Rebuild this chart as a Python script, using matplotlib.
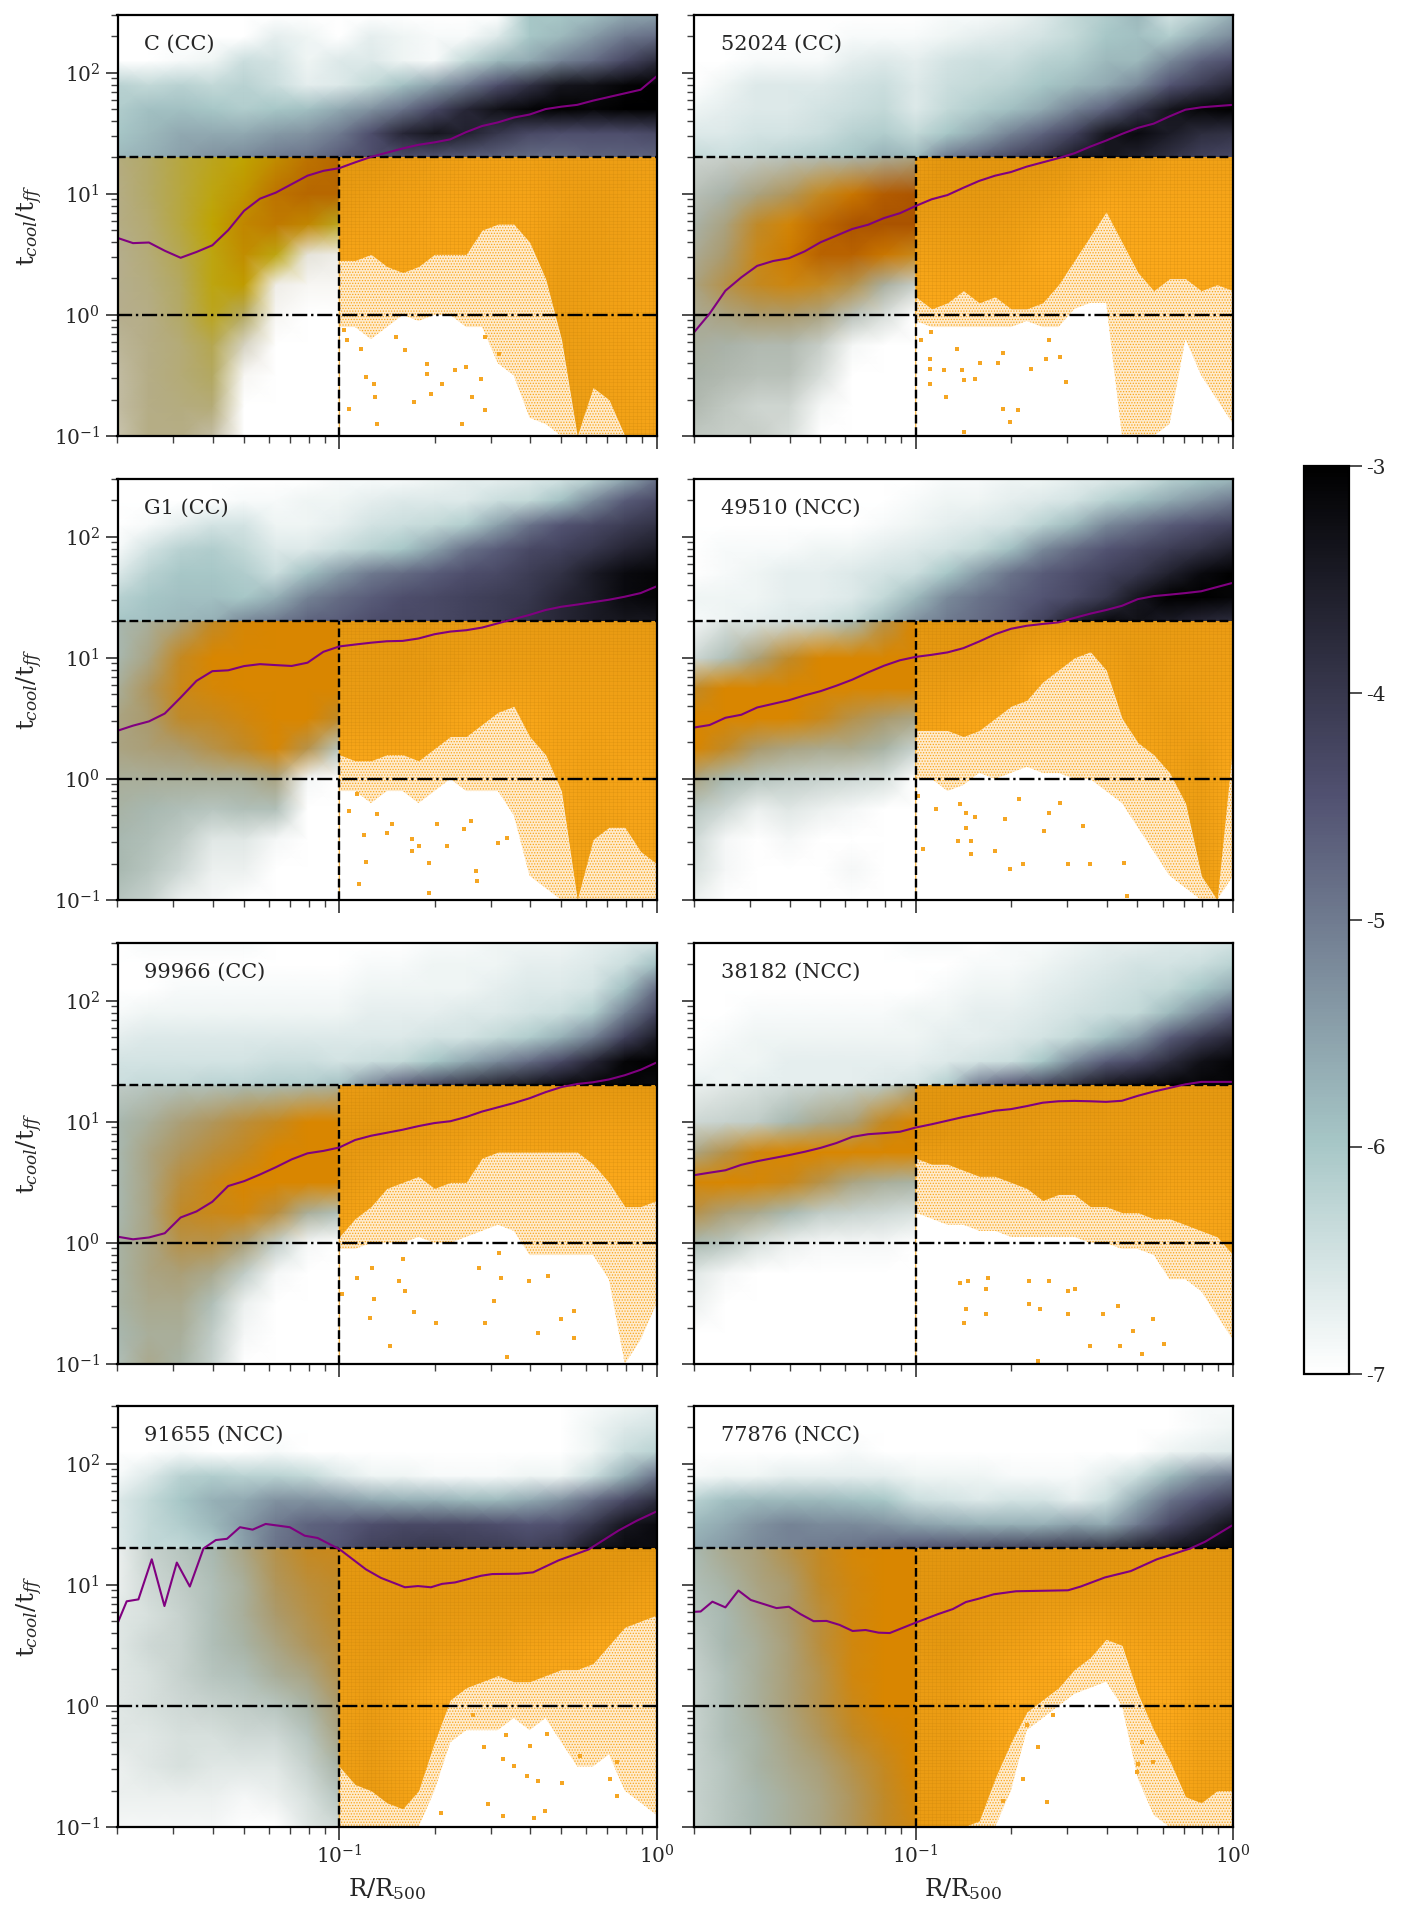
import numpy as np
import matplotlib

matplotlib.use("Agg")
import matplotlib.pyplot as plt
from matplotlib.cm import ScalarMappable
from matplotlib.colors import LinearSegmentedColormap, Normalize
from matplotlib.ticker import LogLocator, NullFormatter

plt.rcParams["font.family"] = "DejaVu Serif"
plt.rcParams["mathtext.fontset"] = "dejavuserif"
plt.rcParams["hatch.linewidth"] = 0.6

PANEL_LABELS = ["C (CC)", "52024 (CC)", "G1 (CC)", "49510 (NCC)",
                "99966 (CC)", "38182 (NCC)", "91655 (NCC)", "77876 (NCC)"]

# node positions (log10) of the density grids
TOP_LOG_R = [-1.7, -1.6, -1.5, -1.4, -1.3, -1.2, -1.1, -1.0, -0.9, -0.8, -0.7, -0.6, -0.5, -0.4, -0.3, -0.2, -0.1, 0.0]
TOP_LOG_T = [1.30, 1.5, 1.7, 1.9, 2.1, 2.3, 2.48]
LEFT_LOG_R = [-1.7, -1.6, -1.5, -1.4, -1.3, -1.2, -1.1, -1.0]
LEFT_LOG_T = [-1.0, -0.75, -0.5, -0.25, 0.0, 0.25, 0.5, 0.75, 1.0, 1.3]
EDGE_LOG_R = [-1.0, -0.95, -0.9, -0.85, -0.8, -0.75, -0.7, -0.65, -0.6, -0.55, -0.5,
              -0.45, -0.4, -0.35, -0.3, -0.25, -0.2, -0.15, -0.1, -0.05, 0.0]
TONE_LOG_R = [-1.0, -0.9, -0.8, -0.7, -0.6, -0.5, -0.4, -0.3, -0.2, -0.1, 0.0]
TONE_LOG_T = [-1.0, 0.1, 0.5, 0.9, 1.3]
MEDIAN_LOG_R = [-1.7, -1.65, -1.6, -1.55, -1.5, -1.45, -1.4, -1.35, -1.3, -1.25, -1.2, -1.15,
                -1.1, -1.05, -1.0, -0.95, -0.9, -0.85, -0.8, -0.75, -0.7, -0.65, -0.6, -0.55,
                -0.5, -0.45, -0.4, -0.35, -0.3, -0.25, -0.2, -0.15, -0.1, -0.05, 0.0]

# log10 density above t=20, rows bottom to top
TOP_C = [
    [-5.8, -5.7, -5.5, -5.3, -5.2, -5.0, -4.9, -4.6, -4.4, -4.4, -4.5, -4.6, -4.7, -4.8, -4.8, -4.7, -4.7, -4.7],
    [-6.0, -5.8, -5.6, -5.6, -5.6, -5.4, -5.3, -5.0, -4.4, -3.7, -3.4, -3.6, -4.0, -4.3, -4.4, -4.4, -4.4, -4.3],
    [-6.1, -5.9, -5.9, -6.0, -6.1, -6.0, -5.9, -5.6, -5.3, -4.9, -4.3, -3.7, -3.3, -3.1, -3.0, -3.1, -3.0, -3.0],
    [-6.2, -6.3, -6.2, -6.3, -6.2, -6.4, -6.7, -6.6, -6.3, -5.9, -5.5, -5.0, -4.4, -3.9, -3.4, -3.3, -3.1, -3.0],
    [-7.0, -7.0, -6.9, -6.8, -6.4, -6.5, -6.8, -6.6, -6.6, -6.8, -6.9, -6.3, -5.8, -5.6, -5.1, -4.8, -4.3, -3.8],
    [-7.0, -7.0, -7.0, -7.0, -7.0, -6.7, -6.8, -7.0, -6.7, -6.8, -6.9, -6.9, -6.6, -6.0, -5.8, -5.4, -5.0, -4.8],
    [-7.0, -7.0, -7.0, -7.0, -7.0, -7.0, -7.0, -7.0, -7.0, -7.0, -7.0, -7.0, -7.0, -6.0, -6.0, -5.9, -5.6, -5.5],
]
TOP_52024 = [
    [-6.3, -6.4, -6.3, -6.2, -6.1, -6.0, -5.7, -5.8, -5.0, -4.7, -4.3, -4.0, -3.5, -3.4, -3.6, -3.9, -4.2, -4.3],
    [-6.6, -6.6, -6.5, -6.5, -6.4, -6.2, -6.1, -6.3, -6.0, -5.6, -5.1, -4.7, -4.2, -3.4, -3.2, -3.5, -3.8, -3.9],
    [-6.8, -6.7, -6.6, -6.6, -6.5, -6.4, -6.3, -6.6, -6.3, -6.1, -5.9, -5.6, -5.1, -4.7, -4.0, -3.4, -3.1, -3.0],
    [-7.0, -6.8, -6.6, -6.6, -6.6, -6.5, -6.4, -6.6, -6.4, -6.3, -6.2, -6.0, -5.8, -5.6, -5.2, -4.5, -4.1, -3.7],
    [-7.0, -7.0, -6.9, -6.9, -6.9, -6.7, -6.6, -6.7, -6.5, -6.4, -6.4, -6.2, -6.1, -5.8, -5.8, -5.2, -4.7, -4.4],
    [-7.0, -7.0, -7.0, -7.0, -7.0, -6.9, -6.9, -6.9, -6.8, -6.7, -6.6, -6.5, -6.3, -6.0, -5.9, -6.1, -5.6, -5.2],
    [-7.0, -7.0, -7.0, -7.0, -7.0, -7.0, -7.0, -7.0, -6.9, -6.9, -6.8, -6.6, -6.3, -6.1, -5.8, -6.5, -6.2, -5.7],
]
TOP_G1 = [
    [-6.0, -5.9, -5.8, -5.7, -5.2, -5.0, -4.7, -4.6, -4.4, -4.3, -4.3, -4.2, -4.1, -3.9, -3.7, -3.5, -3.4, -3.4],
    [-6.2, -6.0, -5.9, -5.9, -6.0, -5.7, -5.1, -4.8, -4.6, -4.4, -4.3, -4.2, -4.1, -4.0, -3.7, -3.5, -3.2, -3.1],
    [-6.6, -6.2, -6.0, -6.0, -6.1, -6.4, -5.9, -5.4, -5.0, -4.8, -4.6, -4.4, -4.3, -4.1, -3.9, -3.5, -3.2, -3.1],
    [-6.9, -6.5, -6.2, -6.1, -6.3, -6.6, -6.6, -6.4, -6.2, -6.0, -5.5, -4.9, -4.6, -4.3, -4.2, -4.0, -3.7, -3.5],
    [-7.0, -6.9, -6.7, -6.5, -6.5, -6.8, -6.8, -6.7, -6.5, -6.4, -6.3, -6.1, -5.5, -4.9, -4.5, -4.3, -4.1, -3.9],
    [-7.0, -7.0, -7.0, -7.0, -6.9, -6.9, -6.8, -6.8, -6.7, -6.6, -6.6, -6.6, -6.4, -6.3, -5.9, -5.2, -4.6, -4.3],
    [-7.0, -7.0, -7.0, -7.0, -7.0, -7.0, -7.0, -6.9, -6.9, -6.9, -6.8, -6.7, -6.7, -6.6, -6.5, -6.2, -5.6, -4.9],
]
TOP_49510 = [
    [-6.9, -6.8, -6.7, -6.6, -6.5, -6.3, -5.8, -5.3, -5.0, -4.8, -4.6, -4.2, -3.6, -3.2, -3.3, -3.5, -3.7, -3.8],
    [-6.8, -6.8, -6.8, -6.7, -6.7, -6.6, -6.3, -5.8, -5.2, -4.9, -4.7, -4.5, -4.3, -4.0, -3.4, -3.0, -3.0, -3.1],
    [-7.0, -6.9, -6.8, -6.7, -6.7, -6.6, -6.5, -6.4, -6.0, -5.4, -4.9, -4.6, -4.4, -4.2, -4.0, -3.6, -3.2, -3.0],
    [-7.0, -6.9, -6.9, -6.9, -6.8, -6.8, -6.7, -6.6, -6.5, -6.3, -5.9, -5.2, -4.8, -4.5, -4.3, -4.1, -3.9, -3.6],
    [-7.0, -7.0, -7.0, -7.0, -7.0, -7.0, -6.9, -6.8, -6.7, -6.6, -6.5, -6.2, -5.8, -5.2, -4.9, -4.6, -4.4, -4.2],
    [-7.0, -7.0, -7.0, -7.0, -7.0, -7.0, -7.0, -6.9, -6.8, -6.8, -6.7, -6.6, -6.5, -6.2, -5.9, -5.6, -5.3, -5.0],
    [-7.0, -7.0, -7.0, -7.0, -7.0, -7.0, -7.0, -7.0, -6.9, -6.9, -6.8, -6.8, -6.7, -6.6, -6.5, -6.2, -6.0, -5.8],
]
TOP_99966 = [
    [-6.4, -6.3, -6.3, -6.2, -6.2, -6.1, -6.1, -5.9, -5.2, -4.6, -4.2, -3.9, -3.6, -3.4, -3.2, -3.1, -3.1, -3.2],
    [-6.5, -6.5, -6.5, -6.5, -6.5, -6.4, -6.4, -6.5, -6.4, -6.3, -6.0, -5.6, -5.2, -4.8, -4.3, -3.7, -3.1, -3.0],
    [-6.7, -6.6, -6.6, -6.6, -6.6, -6.6, -6.6, -6.6, -6.6, -6.6, -6.5, -6.5, -6.3, -6.1, -5.7, -5.1, -4.2, -3.5],
    [-6.9, -6.8, -6.8, -6.8, -6.8, -6.8, -6.8, -6.8, -6.7, -6.7, -6.7, -6.6, -6.6, -6.5, -6.4, -6.1, -5.1, -4.2],
    [-7.0, -7.0, -6.9, -6.9, -6.9, -6.9, -6.9, -6.9, -6.8, -6.8, -6.8, -6.8, -6.7, -6.6, -6.6, -6.5, -5.9, -4.8],
    [-7.0, -7.0, -7.0, -7.0, -7.0, -7.0, -7.0, -7.0, -6.9, -6.9, -6.8, -6.8, -6.8, -6.7, -6.7, -6.6, -6.4, -5.9],
    [-7.0, -6.9, -6.9, -6.9, -6.9, -7.0, -7.0, -7.0, -7.0, -7.0, -6.9, -6.9, -6.8, -6.8, -6.8, -6.7, -6.6, -6.5],
]
TOP_38182 = [
    [-6.7, -6.8, -6.7, -6.7, -6.7, -6.7, -6.6, -6.5, -6.1, -5.0, -4.5, -4.2, -3.8, -3.4, -3.2, -3.1, -3.1, -3.1],
    [-6.9, -6.8, -6.8, -6.7, -6.7, -6.7, -6.7, -6.7, -6.6, -6.5, -6.4, -6.0, -5.2, -4.6, -4.3, -3.8, -3.3, -3.1],
    [-7.0, -6.9, -6.8, -6.8, -6.8, -6.8, -6.8, -6.8, -6.7, -6.7, -6.6, -6.5, -6.3, -5.9, -5.4, -4.6, -4.1, -3.7],
    [-7.0, -7.0, -6.9, -6.9, -6.9, -6.9, -6.9, -6.8, -6.8, -6.7, -6.7, -6.6, -6.5, -6.4, -6.3, -5.8, -5.2, -4.6],
    [-7.0, -7.0, -7.0, -7.0, -7.0, -7.0, -7.0, -7.0, -6.9, -6.8, -6.8, -6.7, -6.6, -6.5, -6.4, -6.3, -6.0, -5.6],
    [-7.0, -7.0, -7.0, -7.0, -7.0, -7.0, -7.0, -7.0, -7.0, -6.9, -6.9, -6.8, -6.7, -6.6, -6.5, -6.5, -6.4, -6.2],
    [-7.0, -7.0, -7.0, -7.0, -7.0, -7.0, -7.0, -6.9, -6.9, -7.0, -6.9, -6.9, -6.8, -6.7, -6.7, -6.6, -6.6, -6.5],
]
TOP_91655 = [
    [-6.6, -6.3, -6.3, -6.1, -5.5, -4.9, -4.7, -4.5, -4.2, -4.1, -4.0, -4.1, -4.1, -4.2, -4.0, -3.4, -3.2, -3.2],
    [-6.6, -6.3, -6.1, -5.8, -5.4, -5.0, -4.7, -4.6, -4.4, -4.3, -4.3, -4.3, -4.4, -4.5, -4.4, -4.0, -3.4, -3.2],
    [-6.6, -6.3, -6.0, -5.7, -5.6, -5.3, -5.3, -5.4, -5.6, -5.7, -5.7, -5.8, -5.8, -5.6, -5.3, -4.8, -4.3, -3.8],
    [-6.9, -6.6, -6.2, -6.1, -6.2, -6.2, -6.3, -6.6, -6.8, -6.8, -6.9, -6.9, -6.9, -6.8, -6.8, -6.4, -5.7, -4.9],
    [-7.0, -7.0, -6.9, -7.0, -7.0, -6.9, -7.0, -7.0, -7.0, -7.0, -7.0, -7.0, -7.0, -7.0, -7.0, -6.8, -6.4, -6.2],
    [-7.0, -7.0, -7.0, -7.0, -7.0, -7.0, -7.0, -7.0, -7.0, -7.0, -7.0, -7.0, -7.0, -7.0, -7.0, -6.8, -6.6, -6.5],
    [-7.0, -7.0, -7.0, -7.0, -7.0, -7.0, -7.0, -7.0, -7.0, -7.0, -7.0, -7.0, -7.0, -7.0, -7.0, -6.9, -6.8, -6.7],
]
TOP_77876 = [
    [-5.6, -5.4, -5.2, -5.1, -5.0, -4.9, -4.7, -4.5, -4.4, -4.3, -4.2, -4.1, -4.0, -3.9, -3.6, -3.4, -3.2, -3.1],
    [-5.8, -5.6, -5.3, -5.1, -5.2, -5.2, -5.3, -5.5, -5.6, -5.7, -5.7, -5.7, -5.5, -5.6, -5.0, -4.3, -3.8, -3.3],
    [-6.2, -5.9, -5.8, -5.8, -5.8, -5.9, -6.0, -6.4, -6.5, -6.6, -6.5, -6.5, -6.7, -6.4, -5.6, -4.9, -4.5, -4.1],
    [-6.9, -6.8, -6.8, -6.7, -6.7, -6.7, -6.7, -6.8, -6.8, -6.8, -6.9, -6.9, -6.9, -6.7, -6.4, -5.8, -5.3, -5.0],
    [-7.0, -7.0, -7.0, -7.0, -7.0, -6.9, -7.0, -7.0, -7.0, -7.0, -7.0, -7.0, -7.0, -7.0, -7.0, -6.8, -6.7, -6.6],
    [-7.0, -7.0, -7.0, -7.0, -7.0, -7.0, -7.0, -7.0, -7.0, -7.0, -7.0, -7.0, -7.0, -7.0, -7.0, -7.0, -6.9, -6.8],
    [-7.0, -7.0, -7.0, -7.0, -7.0, -7.0, -7.0, -7.0, -7.0, -7.0, -7.0, -7.0, -7.0, -7.0, -7.0, -7.0, -6.9, -6.9],
]

# log10 density for R<0.1 and t<20, rows bottom to top
LEFT_C = [
    [-6.3, -5.9, -5.9, -6.2, -7.0, -7.0, -7.0, -7.0],
    [-6.2, -5.9, -5.8, -5.7, -7.0, -7.0, -7.0, -7.0],
    [-6.2, -5.9, -5.7, -5.4, -6.9, -7.0, -7.0, -7.0],
    [-6.1, -5.9, -5.7, -5.3, -6.5, -7.0, -7.0, -7.0],
    [-6.0, -5.9, -5.5, -5.0, -5.4, -6.9, -7.0, -7.0],
    [-6.0, -5.8, -5.4, -4.9, -4.7, -6.8, -6.9, -6.9],
    [-6.0, -5.7, -5.3, -4.9, -4.5, -4.9, -6.7, -6.8],
    [-5.9, -5.6, -5.2, -4.8, -4.4, -4.2, -4.4, -5.0],
    [-5.9, -5.5, -5.2, -4.9, -4.6, -4.1, -3.9, -3.9],
    [-5.8, -5.5, -5.2, -5.0, -4.8, -4.5, -4.1, -3.9],
]
LEFT_52024 = [
    [-6.3, -6.4, -6.4, -6.6, -7.0, -7.0, -7.0, -7.0],
    [-6.1, -6.3, -6.5, -6.5, -6.9, -7.0, -7.0, -7.0],
    [-6.0, -6.1, -6.2, -6.2, -6.6, -7.0, -7.0, -7.0],
    [-5.9, -6.0, -6.1, -6.1, -6.4, -6.9, -7.0, -7.0],
    [-5.8, -5.6, -5.4, -5.4, -5.6, -6.2, -6.6, -7.0],
    [-5.6, -5.2, -4.9, -4.7, -4.9, -5.2, -5.9, -6.4],
    [-5.8, -5.4, -4.8, -4.4, -4.0, -4.0, -4.3, -4.8],
    [-6.0, -5.6, -5.0, -4.6, -4.1, -3.7, -3.6, -3.6],
    [-6.2, -6.0, -5.6, -5.3, -4.9, -4.3, -3.9, -3.7],
    [-6.5, -6.4, -6.3, -6.2, -6.1, -6.0, -5.8, -5.6],
]
LEFT_G1 = [
    [-6.2, -6.4, -6.8, -6.9, -7.0, -7.0, -7.0, -7.0],
    [-6.0, -6.2, -6.5, -6.8, -6.8, -7.0, -7.0, -7.0],
    [-6.0, -6.1, -6.3, -6.7, -6.7, -6.9, -7.0, -7.0],
    [-5.9, -6.0, -6.1, -6.2, -6.1, -6.1, -7.0, -7.0],
    [-5.8, -5.8, -5.8, -5.8, -5.8, -5.6, -6.9, -7.0],
    [-5.6, -5.5, -5.4, -5.2, -5.0, -4.6, -5.2, -6.2],
    [-5.6, -5.4, -5.0, -4.9, -4.7, -4.3, -4.5, -5.0],
    [-5.8, -5.3, -4.8, -4.6, -4.5, -4.3, -4.3, -4.5],
    [-6.0, -5.6, -4.9, -4.5, -4.2, -4.2, -4.1, -4.1],
    [-6.0, -5.8, -5.5, -5.0, -4.6, -4.3, -4.1, -4.1],
]
LEFT_49510 = [
    [-6.8, -7.0, -7.0, -7.0, -7.0, -7.0, -7.0, -7.0],
    [-6.6, -6.9, -7.0, -7.0, -7.0, -6.9, -7.0, -7.0],
    [-6.5, -6.9, -7.0, -6.9, -7.0, -7.0, -7.0, -7.0],
    [-6.2, -6.5, -6.8, -6.7, -6.8, -6.9, -7.0, -7.0],
    [-5.6, -6.0, -6.2, -6.3, -6.4, -6.5, -6.6, -7.0],
    [-4.5, -5.0, -5.4, -5.6, -5.7, -5.7, -5.9, -6.4],
    [-4.3, -4.3, -4.3, -4.4, -4.8, -5.2, -5.4, -5.6],
    [-5.0, -4.4, -4.2, -4.2, -4.2, -4.2, -4.2, -4.2],
    [-6.5, -6.1, -5.5, -5.0, -4.5, -4.2, -4.1, -4.1],
    [-6.9, -6.6, -6.6, -6.5, -6.3, -6.0, -5.2, -4.5],
]
LEFT_99966 = [
    [-6.1, -5.7, -5.9, -6.4, -7.0, -7.0, -7.0, -7.0],
    [-6.0, -5.8, -5.8, -6.3, -6.9, -7.0, -7.0, -7.0],
    [-5.9, -5.7, -5.7, -6.1, -6.8, -7.0, -7.0, -7.0],
    [-5.9, -5.6, -5.5, -5.7, -6.3, -6.9, -7.0, -7.0],
    [-5.9, -5.6, -5.2, -5.2, -5.5, -6.3, -6.9, -7.0],
    [-6.0, -5.6, -5.0, -4.8, -4.7, -5.1, -5.8, -6.1],
    [-6.0, -5.6, -5.1, -4.8, -4.5, -4.3, -4.2, -4.3],
    [-6.0, -5.6, -5.3, -5.1, -4.9, -4.5, -4.2, -4.1],
    [-6.0, -5.8, -5.5, -5.3, -5.1, -4.9, -4.4, -4.1],
    [-6.3, -6.2, -6.1, -6.1, -6.0, -6.0, -5.9, -5.8],
]
LEFT_38182 = [
    [-7.0, -7.0, -7.0, -7.0, -7.0, -7.0, -7.0, -7.0],
    [-7.0, -7.0, -7.0, -7.0, -7.0, -7.0, -7.0, -7.0],
    [-6.8, -7.0, -7.0, -7.0, -7.0, -7.0, -7.0, -7.0],
    [-6.7, -6.9, -7.0, -7.0, -7.0, -7.0, -7.0, -7.0],
    [-6.0, -6.2, -6.6, -6.8, -6.9, -6.9, -6.9, -7.0],
    [-5.2, -5.5, -5.7, -6.0, -6.3, -6.4, -6.5, -6.6],
    [-4.6, -4.5, -4.6, -4.8, -5.2, -5.6, -5.8, -5.9],
    [-5.6, -5.2, -4.7, -4.4, -4.3, -4.2, -4.2, -4.2],
    [-6.5, -6.4, -6.3, -6.0, -5.7, -5.5, -4.9, -4.3],
    [-6.8, -6.7, -6.6, -6.5, -6.4, -6.3, -6.2, -5.6],
]
LEFT_91655 = [
    [-6.9, -6.9, -6.9, -6.9, -7.0, -7.0, -6.7, -6.5],
    [-6.8, -6.8, -6.8, -6.8, -6.9, -6.8, -6.6, -6.2],
    [-6.8, -6.7, -6.6, -6.7, -6.7, -6.7, -6.4, -5.9],
    [-6.7, -6.7, -6.6, -6.6, -6.5, -6.5, -6.2, -5.6],
    [-6.7, -6.6, -6.5, -6.4, -6.3, -6.2, -5.9, -5.4],
    [-6.7, -6.6, -6.4, -6.2, -6.1, -5.8, -5.6, -5.2],
    [-6.7, -6.5, -6.4, -6.1, -5.9, -5.6, -5.3, -5.1],
    [-6.7, -6.6, -6.4, -6.1, -5.8, -5.4, -5.2, -5.0],
    [-6.8, -6.5, -6.3, -6.1, -5.8, -5.3, -5.1, -5.0],
    [-6.8, -6.4, -6.2, -6.0, -5.6, -5.2, -4.9, -4.8],
]
LEFT_77876 = [
    [-6.4, -6.2, -6.0, -5.8, -5.6, -5.3, -5.0, -4.7],
    [-6.4, -6.2, -6.0, -5.8, -5.6, -5.3, -5.0, -4.6],
    [-6.4, -6.2, -5.9, -5.7, -5.5, -5.2, -4.9, -4.5],
    [-6.4, -6.1, -5.9, -5.6, -5.3, -5.0, -4.7, -4.3],
    [-6.4, -6.1, -5.8, -5.5, -5.2, -4.8, -4.5, -4.3],
    [-6.4, -6.1, -5.8, -5.5, -5.2, -4.7, -4.4, -4.2],
    [-6.3, -6.0, -5.8, -5.5, -5.1, -4.7, -4.3, -4.2],
    [-6.2, -6.0, -5.7, -5.4, -5.1, -4.7, -4.3, -4.2],
    [-6.1, -5.9, -5.6, -5.4, -5.0, -4.7, -4.3, -4.2],
    [-6.0, -5.7, -5.5, -5.2, -4.9, -4.6, -4.3, -4.2],
]

# log10 t of the lower edge of the solid orange block, R>0.1
SOLID_C = [0.45, 0.45, 0.5, 0.4, 0.35, 0.4, 0.5, 0.5, 0.5, 0.7, 0.75, 0.75, 0.6, 0.3, -0.2, -1.0, -0.6, -0.7, -1.0, -1.0, -1.0]
SOLID_52024 = [0.15, 0.05, 0.1, 0.2, 0.1, 0.15, 0.05, 0.05, 0.1, 0.25, 0.45, 0.65, 0.85, 0.6, 0.35, 0.2, 0.3, 0.3, 0.2, 0.25, 0.2]
SOLID_G1 = [0.2, 0.15, 0.15, 0.2, 0.2, 0.15, 0.25, 0.35, 0.35, 0.45, 0.55, 0.6, 0.35, 0.2, -0.1, -1.0, -0.5, -0.4, -0.4, -0.6, -0.7]
SOLID_49510 = [0.4, 0.4, 0.4, 0.35, 0.4, 0.5, 0.6, 0.65, 0.8, 0.9, 1.0, 1.05, 0.9, 0.5, 0.3, 0.2, 0.05, -0.2, -0.8, -1.0, 0.3]
SOLID_99966 = [0.05, 0.2, 0.3, 0.45, 0.5, 0.55, 0.45, 0.5, 0.5, 0.7, 0.75, 0.75, 0.75, 0.75, 0.75, 0.75, 0.65, 0.5, 0.3, 0.3, 0.35]
SOLID_38182 = [0.7, 0.65, 0.65, 0.6, 0.55, 0.55, 0.5, 0.45, 0.35, 0.4, 0.4, 0.3, 0.3, 0.25, 0.25, 0.2, 0.2, 0.15, 0.1, 0.05, -0.1]
SOLID_91655 = [-0.5, -0.65, -0.7, -0.8, -0.85, -0.7, -0.3, 0.05, 0.15, 0.2, 0.25, 0.2, 0.2, 0.25, 0.3, 0.3, 0.35, 0.5, 0.65, 0.7, 0.75]
SOLID_77876 = [-1.0, -1.0, -1.0, -1.0, -0.95, -0.6, -0.3, -0.05, 0.05, 0.15, 0.3, 0.4, 0.55, 0.5, 0.1, -0.2, -0.45, -0.75, -0.8, -0.7, -0.7]

# log10 t where the scattered orange cells thin out
SPARSE_C = [-0.1, -0.1, -0.2, -0.1, 0.0, -0.05, 0.0, 0.0, -0.1, -0.1, -0.4, -0.5, -0.85, -0.9, -1.0, -1.0, -1.0, -1.0, -1.0, -1.0, -1.0]
SPARSE_52024 = [-0.05, -0.1, -0.1, -0.1, -0.1, -0.1, -0.1, -0.05, -0.1, -0.1, 0.05, 0.1, 0.1, -1.0, -1.0, -1.0, -0.9, -0.2, -0.5, -0.7, -0.9]
SPARSE_G1 = [-0.1, -0.1, -0.2, -0.1, -0.1, -0.2, -0.1, 0.0, -0.1, -0.1, -0.1, -0.3, -0.8, -0.9, -1.0, -1.0, -1.0, -1.0, -1.0, -1.0, -1.0]
SPARSE_49510 = [0.0, 0.0, -0.1, -0.05, 0.05, 0.0, 0.05, 0.1, 0.05, 0.05, 0.0, 0.0, -0.1, -0.2, -0.4, -0.6, -0.8, -0.9, -1.0, -1.0, -0.8]
SPARSE_99966 = [-0.05, -0.05, 0.0, 0.0, 0.0, 0.05, 0.0, 0.0, 0.05, 0.1, 0.15, 0.1, -0.1, -0.1, -0.1, -0.1, -0.1, -0.3, -1.0, -0.8, -0.5]
SPARSE_38182 = [0.25, 0.2, 0.15, 0.15, 0.1, 0.1, 0.05, 0.05, 0.05, 0.05, 0.05, 0.0, 0.0, -0.05, -0.05, -0.1, -0.3, -0.3, -0.4, -0.6, -0.8]
SPARSE_91655 = [-1.0, -1.0, -1.0, -1.0, -1.0, -1.0, -0.7, -0.3, -0.2, -0.2, -0.2, -0.1, -0.2, -0.1, -0.3, -0.5, -0.5, -0.4, -0.7, -0.8, -0.9]
SPARSE_77876 = [-1.0, -1.0, -1.0, -1.0, -1.0, -1.0, -0.7, -0.2, -0.1, 0.0, 0.1, 0.15, 0.2, 0.0, -0.6, -0.9, -1.0, -1.0, -1.0, -1.0, -1.0]

# lone orange cells below the scatter, (log10 R, log10 t)
STRAY_C = [(-0.986, -0.128), (-0.974, -0.21), (-0.933, -0.279), (-0.892, -0.568), (-0.887, -0.678), (-0.822, -0.183), (-0.793, -0.293), (-0.723, -0.403),
           (-0.723, -0.486), (-0.711, -0.651), (-0.676, -0.568), (-0.635, -0.458), (-0.6, -0.431), (-0.582, -0.678), (-0.553, -0.527), (-0.542, -0.788),
           (-0.612, -0.898), (-0.881, -0.898), (-0.968, -0.774), (-0.916, -0.513), (-0.764, -0.719), (-0.542, -0.183), (-0.495, -0.32)]
STRAY_52024 = [(-0.982, -0.21), (-0.953, -0.142), (-0.871, -0.279), (-0.956, -0.361), (-0.956, -0.444), (-0.912, -0.458), (-0.854, -0.458), (-0.848, -0.54),
               (-0.956, -0.57), (-0.906, -0.678), (-0.813, -0.527), (-0.796, -0.398), (-0.725, -0.315), (-0.74, -0.398), (-0.637, -0.444), (-0.591, -0.361),
               (-0.544, -0.347), (-0.526, -0.554), (-0.725, -0.774), (-0.678, -0.788), (-0.702, -0.884), (-0.848, -0.964), (-0.579, -0.21)]
STRAY_G1 = [(-0.945, -0.127), (-0.969, -0.264), (-0.881, -0.292), (-0.834, -0.375), (-0.922, -0.466), (-0.851, -0.444), (-0.77, -0.499), (-0.77, -0.595),
            (-0.75, -0.554), (-0.692, -0.375), (-0.66, -0.554), (-0.608, -0.416), (-0.585, -0.347), (-0.501, -0.526), (-0.57, -0.76), (-0.565, -0.843),
            (-0.717, -0.939), (-0.939, -0.87), (-0.916, -0.683), (-0.717, -0.694), (-0.471, -0.485)]
STRAY_49510 = [(-0.994, -0.14), (-0.936, -0.251), (-0.86, -0.21), (-0.842, -0.279), (-0.813, -0.311), (-0.842, -0.402), (-0.866, -0.512), (-0.825, -0.512),
               (-0.825, -0.623), (-0.977, -0.581), (-0.749, -0.595), (-0.661, -0.705), (-0.702, -0.747), (-0.719, -0.333), (-0.673, -0.168), (-0.579, -0.279),
               (-0.544, -0.196), (-0.474, -0.388), (-0.52, -0.705), (-0.45, -0.705), (-0.345, -0.691), (-0.333, -0.967), (-0.596, -0.427)]
STRAY_99966 = [(-0.992, -0.424), (-0.945, -0.286), (-0.896, -0.204), (-0.89, -0.466), (-0.904, -0.617), (-0.84, -0.851), (-0.764, -0.57), (-0.793, -0.397),
               (-0.811, -0.314), (-0.799, -0.135), (-0.694, -0.658), (-0.559, -0.204), (-0.542, -0.658), (-0.489, -0.286), (-0.512, -0.479), (-0.401, -0.314),
               (-0.372, -0.741), (-0.301, -0.631), (-0.261, -0.562), (-0.261, -0.782), (-0.471, -0.939), (-0.343, -0.273), (-0.495, -0.08)]
STRAY_38182 = [(-0.86, -0.328), (-0.836, -0.314), (-0.772, -0.286), (-0.778, -0.383), (-0.842, -0.548), (-0.848, -0.658), (-0.78, -0.589), (-0.643, -0.314),
               (-0.579, -0.314), (-0.643, -0.507), (-0.608, -0.548), (-0.497, -0.383), (-0.52, -0.589), (-0.45, -0.851), (-0.409, -0.589), (-0.357, -0.851),
               (-0.287, -0.915), (-0.316, -0.727), (-0.216, -0.837), (-0.251, -0.63), (-0.363, -0.52), (-0.614, -0.975), (-0.52, -0.397)]
STRAY_91655 = [(-0.544, -0.342), (-0.474, -0.243), (-0.398, -0.327), (-0.346, -0.229), (-0.24, -0.41), (-0.298, -0.633), (-0.374, -0.619), (-0.409, -0.578),
               (-0.45, -0.494), (-0.532, -0.814), (-0.485, -0.911), (-0.351, -0.869), (-0.386, -0.925), (-0.678, -0.883), (-0.485, -0.438), (-0.579, -0.076),
               (-0.123, -0.466), (-0.123, -0.744), (-0.146, -0.605)]
STRAY_77876 = [(-0.661, -0.605), (-0.585, -0.791), (-0.725, -0.786), (-0.304, -0.549), (-0.298, -0.48), (-0.614, -0.34), (-0.649, -0.16), (-0.287, -0.299),
               (-0.251, -0.466), (-0.567, -0.076)]

# how dark the orange block is, 0 to 1, rows bottom to top (first row repeats down to t=0.1)
TONE_C = [[0.1, 0.1, 0.1, 0.1, 0.1, 0.1, 0.2, 0.5, 0.4, 0.3, 0.2], [0.1, 0.1, 0.1, 0.1, 0.1, 0.1, 0.2, 0.5, 0.4, 0.3, 0.2],
          [0.2, 0.2, 0.2, 0.1, 0.1, 0.1, 0.2, 0.5, 0.5, 0.4, 0.3], [0.6, 0.4, 0.3, 0.2, 0.2, 0.2, 0.2, 0.4, 0.5, 0.4, 0.3],
          [0.8, 0.8, 0.6, 0.5, 0.4, 0.4, 0.4, 0.5, 0.5, 0.5, 0.4]]
TONE_52024 = [[0, 0, 0, 0, 0, 0, 0, 0, 0, 0, 0], [0, 0, 0, 0, 0, 0, 0, 0, 0, 0, 0],
              [0.3, 0.4, 0.4, 0.3, 0, 0, 0, 0, 0, 0, 0], [0.7, 0.7, 0.7, 0.6, 0.4, 0.2, 0, 0.1, 0.1, 0.1, 0.1],
              [0.6, 0.9, 0.9, 0.9, 0.9, 0.7, 0.6, 0.5, 0.4, 0.4, 0.4]]
TONE_G1 = [[0, 0, 0, 0, 0, 0, 0, 0.2, 0.3, 0.2, 0.2], [0, 0, 0, 0, 0, 0, 0, 0.2, 0.3, 0.2, 0.2],
           [0.5, 0.5, 0.4, 0.3, 0.1, 0, 0.1, 0.3, 0.3, 0.3, 0.3], [0.7, 0.7, 0.7, 0.6, 0.5, 0.5, 0.5, 0.5, 0.5, 0.5, 0.5],
           [0.8, 0.8, 0.8, 0.7, 0.7, 0.7, 0.7, 0.7, 0.7, 0.7, 0.7]]
TONE_49510 = [[0, 0, 0, 0, 0, 0, 0, 0, 0.3, 0.5, 0], [0, 0, 0, 0, 0, 0, 0, 0, 0.3, 0.5, 0],
              [0.3, 0.2, 0, 0, 0, 0, 0, 0.3, 0.5, 0.4, 0.2], [0.7, 0.7, 0.6, 0.4, 0, 0, 0.3, 0.6, 0.5, 0.5, 0.4],
              [0.8, 0.9, 0.9, 0.9, 0.8, 0.8, 0.7, 0.7, 0.7, 0.6, 0.6]]
TONE_99966 = [[0.1, 0, 0, 0, 0, 0, 0, 0, 0.1, 0.1, 0.1], [0.1, 0, 0, 0, 0, 0, 0, 0, 0.1, 0.1, 0.1],
              [0.7, 0.4, 0.2, 0.2, 0, 0, 0, 0, 0, 0, 0], [0.8, 0.8, 0.7, 0.6, 0.5, 0.4, 0.4, 0.4, 0.3, 0.3, 0.3],
              [0.6, 0.7, 0.8, 0.8, 0.8, 0.8, 0.8, 0.8, 0.8, 0.8, 0.8]]
TONE_38182 = [[0, 0, 0, 0, 0, 0, 0, 0, 0.1, 0.1, 0.2], [0, 0, 0, 0, 0, 0, 0, 0, 0.1, 0.1, 0.2],
              [0, 0.2, 0.3, 0.4, 0.5, 0.5, 0.5, 0.4, 0.3, 0.3, 0.3], [0.9, 0.8, 0.7, 0.7, 0.6, 0.6, 0.6, 0.6, 0.6, 0.6, 0.6],
              [0.9, 0.9, 0.9, 0.9, 0.9, 0.9, 0.8, 0.8, 0.8, 0.8, 0.8]]
TONE_91655 = [[0.4, 0.6, 0.3, 0, 0, 0, 0, 0, 0, 0, 0], [0.4, 0.6, 0.3, 0, 0, 0, 0, 0, 0, 0, 0],
              [0.6, 0.7, 0.7, 0.6, 0.5, 0.5, 0.3, 0.2, 0, 0, 0], [0.8, 0.8, 0.8, 0.8, 0.8, 0.8, 0.8, 0.8, 0.7, 0.5, 0.3],
              [0.8, 0.8, 0.9, 0.9, 0.9, 0.9, 0.9, 0.9, 0.9, 0.9, 0.8]]
TONE_77876 = [[0.6, 0.6, 0.3, 0, 0, 0, 0, 0, 0, 0.3, 0.3], [0.6, 0.6, 0.3, 0, 0, 0, 0, 0, 0, 0.3, 0.3],
              [0.7, 0.8, 0.6, 0.4, 0.2, 0, 0, 0.2, 0.3, 0.3, 0.4], [0.9, 0.9, 0.8, 0.8, 0.7, 0.7, 0.7, 0.7, 0.7, 0.7, 0.7],
              [0.9, 0.9, 0.9, 0.9, 0.9, 0.9, 0.9, 0.9, 0.9, 0.9, 0.9]]

# median profiles, log10 t
MEDIAN_C = [0.637, 0.593, 0.598, 0.53, 0.472, 0.52, 0.575, 0.70, 0.86, 0.96, 1.01, 1.08, 1.15, 1.19, 1.212, 1.26, 1.305, 1.34,
            1.375, 1.405, 1.425, 1.45, 1.51, 1.56, 1.59, 1.63, 1.655, 1.70, 1.72, 1.735, 1.77, 1.80, 1.83, 1.86, 1.97]
MEDIAN_52024 = [-0.147, 0.01, 0.20, 0.31, 0.405, 0.445, 0.468, 0.525, 0.60, 0.655, 0.71, 0.745, 0.80, 0.84, 0.90, 0.955, 0.99, 1.05,
                1.107, 1.15, 1.18, 1.225, 1.26, 1.295, 1.335, 1.39, 1.44, 1.495, 1.545, 1.58, 1.64, 1.695, 1.715, 1.725, 1.735]
MEDIAN_G1 = [0.397, 0.44, 0.475, 0.54, 0.672, 0.81, 0.89, 0.897, 0.932, 0.948, 0.94, 0.933, 0.96, 1.05, 1.094, 1.11, 1.125, 1.137,
             1.14, 1.16, 1.195, 1.217, 1.228, 1.25, 1.285, 1.32, 1.355, 1.395, 1.422, 1.44, 1.46, 1.48, 1.505, 1.535, 1.59]
MEDIAN_49510 = [0.424, 0.445, 0.505, 0.53, 0.59, 0.62, 0.65, 0.69, 0.725, 0.77, 0.82, 0.88, 0.935, 0.98, 1.008, 1.025, 1.045, 1.08,
                1.135, 1.195, 1.24, 1.265, 1.28, 1.293, 1.33, 1.365, 1.395, 1.43, 1.485, 1.51, 1.522, 1.535, 1.55, 1.585, 1.62]
MEDIAN_99966 = [0.052, 0.03, 0.045, 0.08, 0.21, 0.26, 0.34, 0.47, 0.51, 0.565, 0.625, 0.69, 0.74, 0.76, 0.788, 0.85, 0.885, 0.91,
                0.935, 0.965, 0.99, 1.005, 1.04, 1.085, 1.12, 1.155, 1.195, 1.245, 1.287, 1.313, 1.327, 1.35, 1.385, 1.43, 1.49]
MEDIAN_38182 = [0.559, 0.58, 0.60, 0.645, 0.675, 0.70, 0.725, 0.753, 0.785, 0.825, 0.876, 0.898, 0.907, 0.918, 0.953, 0.98, 1.01, 1.04,
                1.065, 1.092, 1.105, 1.13, 1.158, 1.17, 1.173, 1.17, 1.165, 1.174, 1.215, 1.25, 1.28, 1.31, 1.33, 1.33, 1.33]
# these two zigzag between their own bins, so they carry their own radii
MEDIAN_R_91655 = [-1.70, -1.67, -1.633, -1.591, -1.551, -1.512, -1.471, -1.428, -1.389, -1.354, -1.313, -1.273, -1.232, -1.156, -1.109, -1.068, -0.998,
                  -0.916, -0.869, -0.793, -0.752, -0.711, -0.676, -0.635, -0.553, -0.518, -0.436, -0.389, -0.308, -0.214, -0.12, -0.062, 0.0]
MEDIAN_91655 = [0.675, 0.864, 0.88, 1.211, 0.825, 1.184, 0.986, 1.30, 1.37, 1.38, 1.476, 1.456, 1.503, 1.476, 1.406, 1.387, 1.292,
                1.128, 1.058, 0.98, 0.99, 0.98, 1.008, 1.02, 1.075, 1.089, 1.092, 1.103, 1.203, 1.292, 1.448, 1.53, 1.606]
MEDIAN_R_77876 = [-1.70, -1.678, -1.641, -1.60, -1.559, -1.52, -1.48, -1.439, -1.40, -1.363, -1.322, -1.281, -1.24, -1.199, -1.158, -1.117, -1.082, -1.0,
                  -0.93, -0.883, -0.842, -0.801, -0.754, -0.684, -0.52, -0.48, -0.404, -0.322, -0.24, -0.135, -0.088, 0.0]
MEDIAN_77876 = [0.777, 0.78, 0.861, 0.814, 0.953, 0.875, 0.842, 0.808, 0.819, 0.758, 0.70, 0.702, 0.669, 0.619, 0.627, 0.605, 0.602, 0.688,
                0.758, 0.80, 0.858, 0.886, 0.922, 0.947, 0.955, 0.986, 1.061, 1.114, 1.211, 1.30, 1.356, 1.495]

TOP_GRIDS = [TOP_C, TOP_52024, TOP_G1, TOP_49510, TOP_99966, TOP_38182, TOP_91655, TOP_77876]
LEFT_GRIDS = [LEFT_C, LEFT_52024, LEFT_G1, LEFT_49510, LEFT_99966, LEFT_38182, LEFT_91655, LEFT_77876]
SOLID_EDGES = [SOLID_C, SOLID_52024, SOLID_G1, SOLID_49510, SOLID_99966, SOLID_38182, SOLID_91655, SOLID_77876]
SPARSE_EDGES = [SPARSE_C, SPARSE_52024, SPARSE_G1, SPARSE_49510, SPARSE_99966, SPARSE_38182, SPARSE_91655, SPARSE_77876]
STRAYS = [STRAY_C, STRAY_52024, STRAY_G1, STRAY_49510, STRAY_99966, STRAY_38182, STRAY_91655, STRAY_77876]
TONES = [TONE_C, TONE_52024, TONE_G1, TONE_49510, TONE_99966, TONE_38182, TONE_91655, TONE_77876]
MEDIANS_R = [MEDIAN_LOG_R] * 6 + [MEDIAN_R_91655, MEDIAN_R_77876]
MEDIANS = [MEDIAN_C, MEDIAN_52024, MEDIAN_G1, MEDIAN_49510, MEDIAN_99966, MEDIAN_38182, MEDIAN_91655, MEDIAN_77876]

W, H = 1403, 1919
AX_LEFT = [117.5, 694]
AX_TOP = [15, 479, 943, 1406]
AX_W, AX_H = 539, 421

ORANGE = "#f7a61c"
norm = Normalize(-7, -3)
tone_cmap = LinearSegmentedColormap.from_list("tone", ["#fba81a", "#e0940e"])
# orange over the grey map, as it looks in the inner region
left_cmap = LinearSegmentedColormap.from_list("left", [
    (0.0, "#ffffff"), (0.1, "#d6dfdc"), (0.25, "#a8b8b0"), (0.4, "#ab9a6c"),
    (0.5, "#c08a2a"), (0.62, "#d98600"), (1.0, "#d98600")])
# C and 52024 have a browner core
left_cmap_brown = LinearSegmentedColormap.from_list("left_brown", [
    (0.0, "#ffffff"), (0.1, "#d6dcd8"), (0.25, "#a9b2a8"), (0.4, "#ab9a6c"),
    (0.5, "#c08a2a"), (0.62, "#d58400"), (0.8, "#ae5600"), (1.0, "#a04c00")])
# panel C comes out more olive
left_cmap_c = LinearSegmentedColormap.from_list("left_c", [
    (0.0, "#ffffff"), (0.1, "#dcd9cc"), (0.25, "#b5ae8e"), (0.4, "#b3a860"),
    (0.55, "#bfa400"), (0.68, "#c27e00"), (0.85, "#ae5600"), (1.0, "#a04c00")])
LEFT_CMAPS = [left_cmap_c, left_cmap_brown] + [left_cmap] * 6


def pow10(values):
    return 10.0 ** np.asarray(values, dtype=float)


fig = plt.figure(figsize=(W / 100, H / 100), dpi=100)

for i, label in enumerate(PANEL_LABELS):
    row, col = i // 2, i % 2
    ax = fig.add_axes([AX_LEFT[col] / W, 1 - (AX_TOP[row] + AX_H) / H, AX_W / W, AX_H / H])
    ax.set_xscale("log")
    ax.set_yscale("log")

    ax.pcolormesh(pow10(TOP_LOG_R), pow10(TOP_LOG_T), np.array(TOP_GRIDS[i]),
                  cmap="bone_r", norm=norm, shading="gouraud", zorder=1)
    ax.pcolormesh(pow10(LEFT_LOG_R), pow10(LEFT_LOG_T), np.array(LEFT_GRIDS[i]),
                  cmap=LEFT_CMAPS[i], norm=norm, shading="gouraud", zorder=1)
    ax.pcolormesh(pow10(TONE_LOG_R), pow10(TONE_LOG_T), np.array(TONES[i], dtype=float),
                  cmap=tone_cmap, vmin=0, vmax=1, shading="gouraud", zorder=1)
    # the faint mesh of the histogram bins on the orange block
    ax.vlines(pow10(np.arange(-1, 0, 1 / 80)), 0.1, 20, color="#c8840c", alpha=0.3, lw=0.5, zorder=1.5)
    ax.hlines(pow10(np.arange(-1, 1.301, 1 / 36)), 0.1, 1, color="#c8840c", alpha=0.3, lw=0.5, zorder=1.5)

    # cut the block at its lower edge, then lay the thin scatter back in
    edge_r = pow10(EDGE_LOG_R)
    ax.fill_between(edge_r, 0.1, pow10(SOLID_EDGES[i]), color="white", lw=0, zorder=2)
    ax.fill_between(edge_r, pow10(SPARSE_EDGES[i]), pow10(SOLID_EDGES[i]), facecolor=(1.0, 0.65, 0.11, 0.22),
                    edgecolor=ORANGE, hatch="......", lw=0, zorder=3)
    stray = np.array(STRAYS[i])
    ax.scatter(pow10(stray[:, 0]), pow10(stray[:, 1]), marker="s", s=9, color="#f5a623", lw=0, zorder=3.5)

    ax.plot(pow10(MEDIANS_R[i]), pow10(MEDIANS[i]), color="purple", lw=1.5, zorder=5)
    ax.plot([0.02, 1], [20, 20], color="k", ls="--", lw=1.7, zorder=4)
    ax.plot([0.02, 1], [1, 1], color="k", ls="-.", lw=1.7, zorder=4)
    ax.plot([0.1, 0.1], [0.1, 20], color="k", ls="--", lw=1.7, zorder=4)

    ax.set_xlim(0.02, 1)
    ax.set_ylim(0.1, 300)
    ax.xaxis.set_minor_locator(LogLocator(base=10, subs=np.arange(2, 10) * 0.1, numticks=12))
    ax.xaxis.set_minor_formatter(NullFormatter())
    ax.yaxis.set_minor_locator(LogLocator(base=10, subs=np.arange(2, 10) * 0.1, numticks=12))
    ax.yaxis.set_minor_formatter(NullFormatter())
    ax.tick_params(which="major", length=9, width=1.3, color="#404040", labelsize=14.5, labelcolor="#262626")
    ax.tick_params(which="minor", length=5, width=1.0, color="#404040")
    for spine in ax.spines.values():
        spine.set_linewidth(1.6)
        spine.set_zorder(6)

    ax.text(0.05, 0.93, label, transform=ax.transAxes, fontsize=15, color="#262626", va="center", zorder=7)

    if row == 3:
        ax.set_xlabel(r"R/R$_{500}$", fontsize=17.5, color="#262626", labelpad=6)
    else:
        ax.tick_params(axis="x", which="both", labelbottom=False)
    if col == 0:
        ax.set_ylabel(r"t$_{cool}$/t$_{ff}$", fontsize=17.5, color="#262626", labelpad=6)
    else:
        ax.tick_params(axis="y", which="both", labelleft=False)

cax = fig.add_axes([1304 / W, 1 - 1374 / H, 45 / W, 908 / H])
cbar = fig.colorbar(ScalarMappable(norm=norm, cmap="bone_r"), cax=cax)
cbar.set_ticks([-7, -6, -5, -4, -3])
cbar.set_ticklabels(["-7", "-6", "-5", "-4", "-3"])
cbar.ax.tick_params(length=9, width=1.3, color="#404040", labelsize=14.5, labelcolor="#262626")
cbar.outline.set_linewidth(1.6)

fig.savefig("out.png", dpi=100)
plt.close(fig)
